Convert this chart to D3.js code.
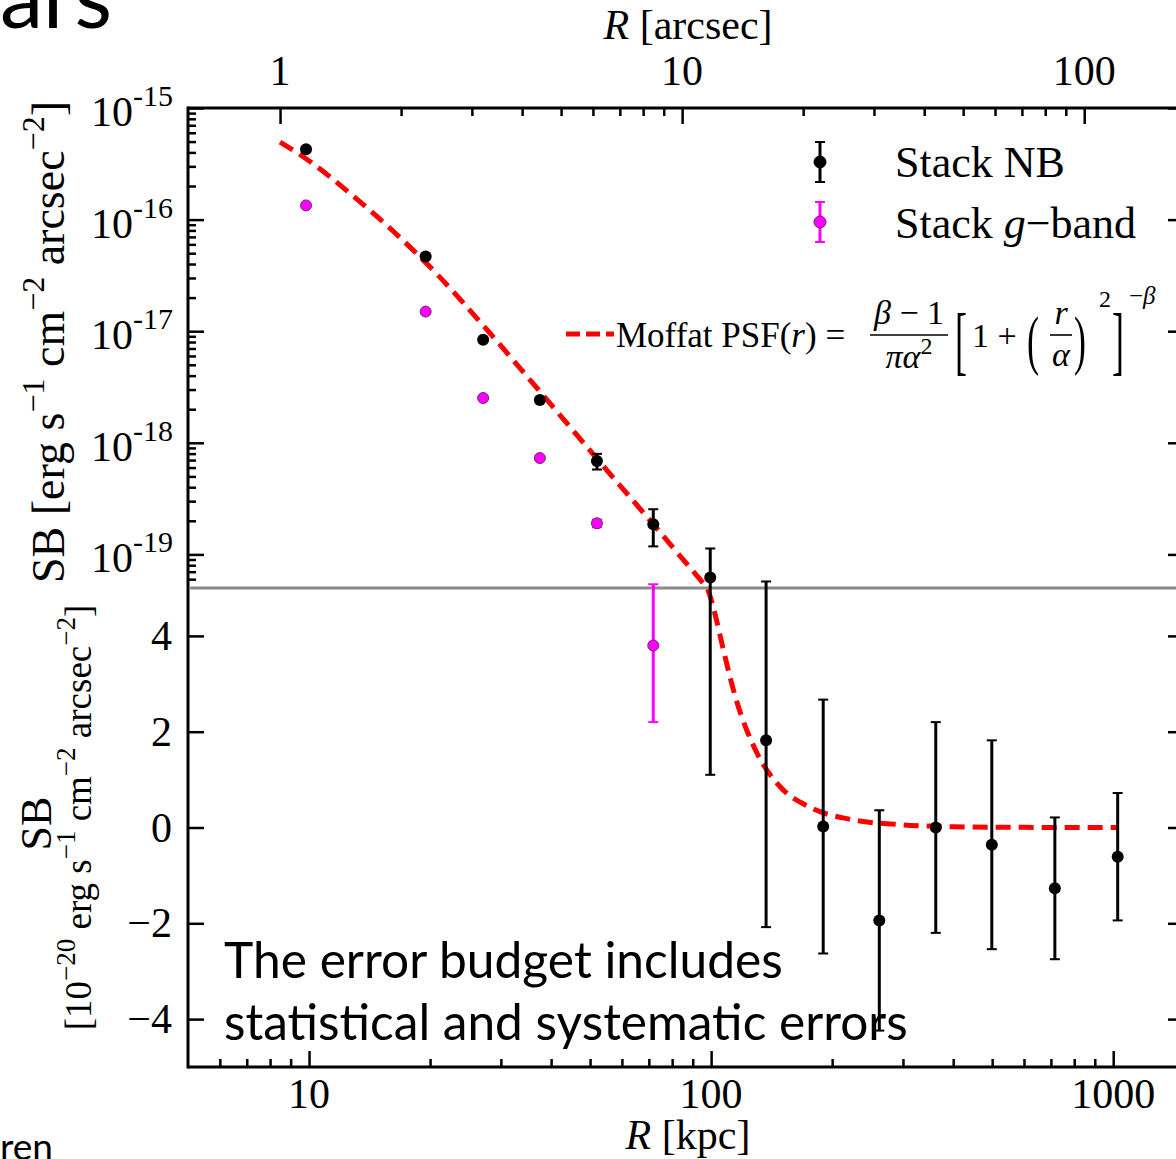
<!DOCTYPE html>
<html>
<head>
<meta charset="utf-8">
<script src="https://cdn.jsdelivr.net/npm/d3@7"></script>
<style>
  html, body { margin: 0; padding: 0; background: #fff; }
  svg { display: block; }
</style>
</head>
<body>
<svg id="chart" width="1176" height="1159"></svg>
<script>
// ---- data: stacked surface-brightness profile ----
const radiusKpc = [9.83, 19.5, 27.1, 37.5, 52.0, 71.8, 99.5, 137, 190, 262, 362, 499, 716, 1026];
const nbSB  = [4.27e-16, 4.68e-17, 8.4e-18, 2.42e-18, 6.86e-19, 1.86e-19, 6.2e-20, 1.82e-20, 0.02e-20, -1.94e-20, 0.0, -0.36e-20, -1.27e-20, -0.61e-20];
const nbErr = [1.2e-17, 1.5e-18, 3e-19, 1.2e-19, 1.1e-19, 6.8e-20, 5.1e-20, 3.9e-20, 2.65e-20, 2.3e-20, 2.2e-20, 2.18e-20, 1.48e-20, 1.33e-20];

const gRadiusKpc = [9.83, 19.5, 27.1, 37.5, 52.0, 71.8];
const gSB  = [1.34e-16, 1.50e-17, 2.52e-18, 7.3e-19, 1.90e-19, 3.80e-20];
const gErr = [3e-18, 4e-19, 8e-20, 3e-20, 1.5e-20, 1.6e-20];

// Moffat PSF profile
const moffatKpc = [8.47, 9.83, 12.5, 16.3, 20.8, 27.1, 38.2, 52.0, 71.8, 85.0, 92.0, 95.0, 98.3, 102.3, 107.0, 114.7, 130.1, 148.5, 176.3, 221.7, 295, 400, 600, 1029];
const moffatSB  = [4.95e-16, 3.51e-16, 1.78e-16, 7.70e-17, 3.25e-17, 1.127e-17, 2.67e-18, 7.22e-19, 1.862e-19, 9.09e-20, 6.5e-20, 5.65e-20, 4.95e-20, 4.45e-20, 3.75e-20, 2.75e-20, 1.55e-20, 0.85e-20, 0.42e-20, 0.17e-20, 0.06e-20, 0.015e-20, 0.003e-20, 0];

// axis ticks
const kpcTicks = [10, 100, 1000];
const arcsecTicks = [1, 10, 100];
const logTicks = [1e-15, 1e-16, 1e-17, 1e-18, 1e-19];
const logTickExp = ["-15", "-16", "-17", "-18", "-19"];
const linTicks = [-4, -2, 0, 2, 4];
const kpcPerArcsec = 8.47;

// ---- layout ----
const L = 188, R = 1184, T = 108, B = 1067, MID = 588;
const SPLIT = 5e-20, UNIT = 1e-20;
const serif = "'Liberation Serif', 'Times New Roman', serif";
const sans = "Lato, 'Open Sans', sans-serif";

const svg = d3.select("#chart");

const x = d3.scaleLog().domain([5, 1500]).range([L, R]);
const xArc = d3.scaleLog().domain([5 / kpcPerArcsec, 1500 / kpcPerArcsec]).range([L, R]);
const yLog = d3.scaleLog().domain([SPLIT, 1e-15]).range([MID, T]);
const yLin = d3.scaleLinear().domain([-5, 5]).range([B, MID]);
// log panel above the split value, linear panel (in 1e-20 units) below
const yPos = v => (v >= SPLIT ? yLog(v) : yLin(v / UNIT));

// minor tick positions
const kpcMinor = [];
[1, 10, 100].forEach(d => { for (let k = 2; k <= 9; k++) { const v = k * d; if (v > 5 && v < 1500 && !kpcTicks.includes(v)) kpcMinor.push(v); } });
const arcMinor = [];
[1, 10].forEach(d => { for (let k = 2; k <= 9; k++) arcMinor.push(k * d); });
const logMinor = [];
for (let e = -20; e <= -16; e++) for (let k = 2; k <= 9; k++) { const v = k * Math.pow(10, e); if (v > SPLIT * 1.0001 && v < 1e-15) logMinor.push(v); }

// ---- rich text helper (superscripts / italics) ----
function rich(sel, parts, size, supSize, shift) {
  let raised = false;
  parts.forEach(p => {
    const ts = sel.append("tspan").text(p.t);
    if (p.sup) {
      ts.attr("font-size", supSize);
      if (!raised) { ts.attr("dy", -shift); raised = true; }
    } else {
      ts.attr("font-size", size);
      if (raised) { ts.attr("dy", shift); raised = false; }
    }
    if (p.it) ts.attr("font-style", "italic");
  });
  return sel;
}

// ---- axes ----
const axes = svg.append("g").attr("font-family", serif);

function tickAxis(axisFn, scale, values, size, translate) {
  const g = axes.append("g").attr("transform", translate)
    .call(axisFn(scale).tickValues(values).tickSizeInner(-size).tickSizeOuter(0).tickFormat(""));
  g.select(".domain").remove();
  g.selectAll(".tick line").attr("stroke", "#000").attr("stroke-width", 2.5);
  return g;
}

// bottom (kpc)
tickAxis(d3.axisBottom, x, kpcTicks, 16, `translate(0,${B})`);
tickAxis(d3.axisBottom, x, kpcMinor, 8, `translate(0,${B})`);
// top (arcsec)
tickAxis(d3.axisTop, xArc, arcsecTicks, 16, `translate(0,${T})`);
tickAxis(d3.axisTop, xArc, arcMinor, 8, `translate(0,${T})`);
// left / right, log panel
tickAxis(d3.axisLeft, yLog, logTicks, 16, `translate(${L},0)`);
tickAxis(d3.axisLeft, yLog, logMinor, 8, `translate(${L},0)`);
tickAxis(d3.axisRight, yLog, logTicks, 16, `translate(${R},0)`);
tickAxis(d3.axisRight, yLog, logMinor, 8, `translate(${R},0)`);
// left / right, linear panel
tickAxis(d3.axisLeft, yLin, linTicks, 16, `translate(${L},0)`);
tickAxis(d3.axisRight, yLin, linTicks, 16, `translate(${R},0)`);

// frame
const frame = svg.append("g").attr("stroke", "#000").attr("stroke-width", 3).attr("fill", "none");
frame.append("line").attr("x1", L).attr("x2", L).attr("y1", T - 1.5).attr("y2", B + 1.5);
frame.append("line").attr("x1", R).attr("x2", R).attr("y1", T - 1.5).attr("y2", B + 1.5);
frame.append("line").attr("x1", L).attr("x2", R).attr("y1", T).attr("y2", T);
frame.append("line").attr("x1", L).attr("x2", R).attr("y1", B).attr("y2", B);
// panel split
svg.append("line").attr("x1", L + 1.5).attr("x2", R).attr("y1", yLin(5)).attr("y2", yLin(5))
  .attr("stroke", "#8a8a8a").attr("stroke-width", 3);

// tick labels
const labels = svg.append("g").attr("font-family", serif).attr("fill", "#000");
kpcTicks.forEach(v => labels.append("text").attr("x", x(v)).attr("y", B + 41)
  .attr("text-anchor", "middle").attr("font-size", 42).text(v));
arcsecTicks.forEach(v => labels.append("text").attr("x", xArc(v)).attr("y", T - 23)
  .attr("text-anchor", "middle").attr("font-size", 42).text(v));
linTicks.forEach(v => labels.append("text").attr("x", L - 16).attr("y", yLin(v) + 14)
  .attr("text-anchor", "end").attr("font-size", 42).text(v < 0 ? "\u2212" + Math.abs(v) : v));
logTicks.forEach((v, i) => {
  const t = labels.append("text").attr("x", L - 15).attr("y", yLog(v) + 18).attr("text-anchor", "end");
  rich(t, [{ t: "10" }, { t: logTickExp[i], sup: true }], 42, 30, 20);
});

// axis titles
const titleTop = labels.append("text").attr("x", 688).attr("y", 39).attr("text-anchor", "middle");
rich(titleTop, [{ t: "R", it: true }, { t: " [arcsec]" }], 42, 30, 0);
const titleBottom = labels.append("text").attr("x", 688).attr("y", 1149).attr("text-anchor", "middle");
rich(titleBottom, [{ t: "R", it: true }, { t: " [kpc]" }], 42, 30, 0);

const yTitleTop = labels.append("text").attr("text-anchor", "middle")
  .attr("transform", `translate(64,342) rotate(-90)`);
rich(yTitleTop, [{ t: "SB  [erg s" }, { t: "\u22121", sup: true }, { t: "   cm" }, { t: "\u22122", sup: true },
  { t: "   arcsec" }, { t: "\u22122", sup: true }, { t: "]" }], 46, 32, 20);

const yTitleBot1 = labels.append("text").attr("text-anchor", "middle")
  .attr("transform", `translate(51,${(MID + B) / 2 - 4}) rotate(-90)`);
rich(yTitleBot1, [{ t: "SB" }], 44, 30, 0);
const yTitleBot2 = labels.append("text").attr("text-anchor", "middle")
  .attr("transform", `translate(91,${(MID + B) / 2 - 10}) rotate(-90)`);
rich(yTitleBot2, [{ t: "[10" }, { t: "\u221220", sup: true }, { t: "   erg s" }, { t: "\u22121", sup: true },
  { t: "   cm" }, { t: "\u22122", sup: true }, { t: "   arcsec" }, { t: "\u22122", sup: true }, { t: "]" }], 37, 27, 16);

// ---- marks ----
const plot = svg.append("g");

// Moffat profile
const moffat = moffatKpc.map((r, i) => [r, moffatSB[i]]);
plot.append("path").datum(moffat)
  .attr("d", d3.line().x(d => x(d[0])).y(d => yPos(d[1])).curve(d3.curveMonotoneX))
  .attr("fill", "none").attr("stroke", "#ff0000").attr("stroke-width", 5)
  .attr("stroke-dasharray", "15,8");

function errorBars(g, rs, vals, errs, color) {
  rs.forEach((r, i) => {
    const cx = x(r), y1 = yPos(vals[i] - errs[i]), y2 = yPos(vals[i] + errs[i]);
    g.append("line").attr("x1", cx).attr("x2", cx).attr("y1", y1).attr("y2", y2)
      .attr("stroke", color).attr("stroke-width", 3);
    [y1, y2].forEach(yy => g.append("line").attr("x1", cx - 5).attr("x2", cx + 5)
      .attr("y1", yy).attr("y2", yy).attr("stroke", color).attr("stroke-width", 2));
  });
}

errorBars(plot, gRadiusKpc, gSB, gErr, "#ff00ff");
plot.selectAll("circle.g").data(gRadiusKpc).join("circle").attr("class", "g")
  .attr("cx", d => x(d)).attr("cy", (d, i) => yPos(gSB[i])).attr("r", 5.5)
  .attr("fill", "#ff00ff").attr("stroke", "#6a2a6a").attr("stroke-width", 1);

errorBars(plot, radiusKpc, nbSB, nbErr, "#000");
plot.selectAll("circle.nb").data(radiusKpc).join("circle").attr("class", "nb")
  .attr("cx", d => x(d)).attr("cy", (d, i) => yPos(nbSB[i])).attr("r", 6)
  .attr("fill", "#000");

// ---- legend ----
const leg = svg.append("g").attr("font-family", serif);
function legendMarker(cx, cy, color, fill, stroke) {
  leg.append("line").attr("x1", cx).attr("x2", cx).attr("y1", cy - 20).attr("y2", cy + 20)
    .attr("stroke", color).attr("stroke-width", 3);
  [cy - 20, cy + 20].forEach(yy => leg.append("line").attr("x1", cx - 5).attr("x2", cx + 5)
    .attr("y1", yy).attr("y2", yy).attr("stroke", color).attr("stroke-width", 2));
  leg.append("circle").attr("cx", cx).attr("cy", cy).attr("r", 6).attr("fill", fill)
    .attr("stroke", stroke).attr("stroke-width", 1);
}
legendMarker(820, 162, "#000", "#000", "#000");
legendMarker(820, 222, "#ff00ff", "#ff00ff", "#6a2a6a");
rich(leg.append("text").attr("x", 895).attr("y", 177), [{ t: "Stack NB" }], 44, 30, 0);
rich(leg.append("text").attr("x", 895).attr("y", 238),
  [{ t: "Stack " }, { t: "g", it: true }, { t: "\u2212band" }], 44, 30, 0);

// Moffat legend entry with formula
leg.append("line").attr("x1", 566).attr("x2", 614).attr("y1", 334).attr("y2", 334)
  .attr("stroke", "#ff0000").attr("stroke-width", 5).attr("stroke-dasharray", "14,6");
rich(leg.append("text").attr("x", 616).attr("y", 347),
  [{ t: "Moffat PSF(" }, { t: "r", it: true }, { t: ") =" }], 35, 24, 0);
rich(leg.append("text").attr("x", 909).attr("y", 324).attr("text-anchor", "middle"),
  [{ t: "\u03b2", it: true }, { t: " \u2212 1" }], 34, 24, 0);
leg.append("line").attr("x1", 870).attr("x2", 948).attr("y1", 335).attr("y2", 335)
  .attr("stroke", "#000").attr("stroke-width", 1.6);
rich(leg.append("text").attr("x", 909).attr("y", 368).attr("text-anchor", "middle"),
  [{ t: "\u03c0\u03b1", it: true }, { t: "2", sup: true }], 34, 24, 14);
leg.append("text").attr("font-size", 36).attr("transform", "translate(955,366) scale(1,2.1)").text("[");
leg.append("text").attr("x", 972).attr("y", 347).attr("font-size", 34).text("1 +");
leg.append("text").attr("font-size", 36).attr("transform", "translate(1027,362) scale(1,1.8)").text("(");
leg.append("text").attr("x", 1061).attr("y", 324).attr("text-anchor", "middle")
  .attr("font-size", 34).attr("font-style", "italic").text("r");
leg.append("line").attr("x1", 1050).attr("x2", 1072).attr("y1", 335).attr("y2", 335)
  .attr("stroke", "#000").attr("stroke-width", 1.6);
leg.append("text").attr("x", 1061).attr("y", 366).attr("text-anchor", "middle")
  .attr("font-size", 34).attr("font-style", "italic").text("\u03b1");
leg.append("text").attr("font-size", 36).attr("transform", "translate(1074,362) scale(1,1.8)").text(")");
leg.append("text").attr("x", 1099).attr("y", 307).attr("font-size", 24).text("2");
leg.append("text").attr("font-size", 36).attr("transform", "translate(1112,366) scale(1,2.1)").text("]");
rich(leg.append("text").attr("x", 1129).attr("y", 304),
  [{ t: "\u2212" }, { t: "\u03b2", it: true }], 25, 25, 0);

// ---- slide annotations ----
function fitText(sel, width) {
  const w = sel.node().getComputedTextLength();
  const fs = parseFloat(sel.attr("font-size"));
  sel.attr("font-size", fs * width / w);
  return sel;
}
const note = svg.append("g").attr("font-family", sans).attr("fill", "#000");
fitText(note.append("text").attr("x", 224).attr("y", 978).attr("font-size", 46).text("The error budget includes"), 559);
fitText(note.append("text").attr("x", 224).attr("y", 1040).attr("font-size", 46).text("statistical and systematic errors"), 684);
fitText(note.append("text").attr("x", 0).attr("y", 28).attr("font-size", 88).text("ars"), 112);
fitText(note.append("text").attr("x", 0).attr("y", 1160).attr("font-size", 40).text("ren"), 53);
</script>
</body>
</html>
